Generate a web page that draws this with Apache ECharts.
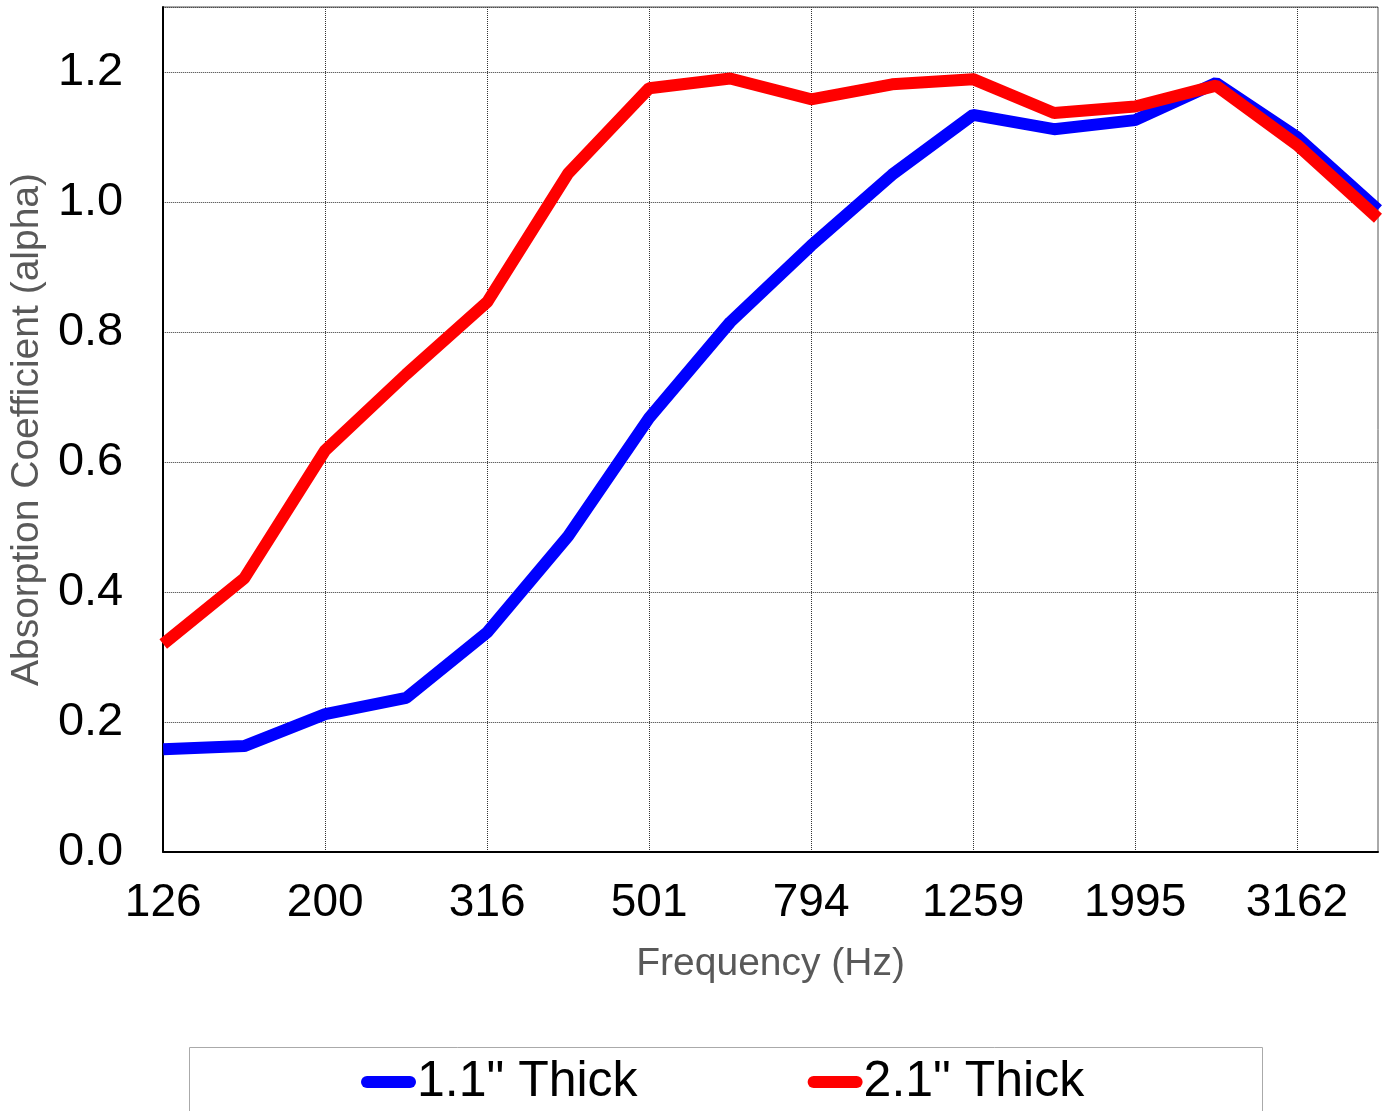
<!DOCTYPE html>
<html>
<head>
<meta charset="utf-8">
<title>Absorption coefficient</title>
<script src="https://cdn.jsdelivr.net/npm/echarts@6/dist/echarts.min.js"></script>
<style>
  html, body { margin: 0; padding: 0; background: #fff; }
  #chart { width: 1382px; height: 1111px; }
</style>
</head>
<body>
<div id="chart"></div>
<script type="text/javascript">
// frequency bands (Hz), 1/3 octave
var freqs = ['126', '158', '200', '251', '316', '398', '501', '631', '794', '1000', '1259', '1585', '1995', '2512', '3162', '3981'];
// 1.1" panel
var thin = [0.158, 0.163, 0.212, 0.237, 0.338, 0.486, 0.668, 0.815, 0.933, 1.042, 1.134, 1.112, 1.126, 1.183, 1.100, 0.988];
// 2.1" panel
var thick = [0.320, 0.421, 0.618, 0.735, 0.846, 1.044, 1.175, 1.190, 1.158, 1.181, 1.189, 1.137, 1.147, 1.179, 1.088, 0.975];
var seriesNames = ['1.1" Thick', '2.1" Thick'];

var font = 'Liberation Sans, Arial, sans-serif';

var option = {
    animation: false,
    backgroundColor: '#fff',
    grid: {
        left: 163,
        right: 4,
        top: 7,
        bottom: 259,
        show: true,
        borderColor: '#555',
        borderWidth: 1
    },
    // legend frame
    graphic: [{
        type: 'rect',
        left: 187,
        top: 1045,
        shape: { width: 1073, height: 120 },
        style: { fill: 'none', stroke: '#aaa', lineWidth: 1 }
    }],
    legend: {
        left: 356,
        top: 1052,
        itemWidth: 55,
        itemHeight: 12,
        itemGap: 170,
        icon: 'path://M6,0 H49 A6,6 0 0 1 49,12 H6 A6,6 0 0 1 6,0 Z',
        textStyle: { fontFamily: font, fontSize: 50, color: '#000', padding: [0, 0, 0, -4] },
        data: seriesNames
    },
    xAxis: {
        type: 'category',
        data: freqs,
        boundaryGap: false,
        name: 'Frequency (Hz)',
        nameLocation: 'middle',
        nameGap: 93,
        nameTextStyle: { fontFamily: font, fontSize: 39, color: '#595959' },
        axisLine: { lineStyle: { color: '#000', width: 2 } },
        axisTick: { show: false },
        axisLabel: { interval: 1, margin: 28, fontFamily: font, fontSize: 46, color: '#000' },
        splitLine: { show: true, interval: 1, lineStyle: { color: '#333', type: 'dotted', width: 1 } }
    },
    yAxis: {
        type: 'value',
        min: 0,
        max: 1.3,
        interval: 0.2,
        name: 'Absorption Coefficient (alpha)',
        nameLocation: 'middle',
        nameGap: 112,
        nameTextStyle: { fontFamily: font, fontSize: 39, color: '#595959' },
        axisLine: { show: true, lineStyle: { color: '#000', width: 2 } },
        axisTick: { show: false },
        axisLabel: {
            margin: 40,
            fontFamily: font,
            fontSize: 47,
            color: '#000',
            formatter: function (v) { return v > 1.25 ? '' : v.toFixed(1); }
        },
        splitLine: { show: true, lineStyle: { color: '#333', type: 'dotted', width: 1 } }
    },
    series: [
        {
            name: seriesNames[0],
            type: 'line',
            data: thin,
            symbol: 'none',
            lineStyle: { color: '#0000ff', width: 12 },
            itemStyle: { color: '#0000ff' }
        },
        {
            name: seriesNames[1],
            type: 'line',
            data: thick,
            symbol: 'none',
            lineStyle: { color: '#ff0000', width: 12 },
            itemStyle: { color: '#ff0000' }
        }
    ]
};

var myChart = echarts.init(document.getElementById('chart'));
myChart.setOption(option);
</script>
</body>
</html>
